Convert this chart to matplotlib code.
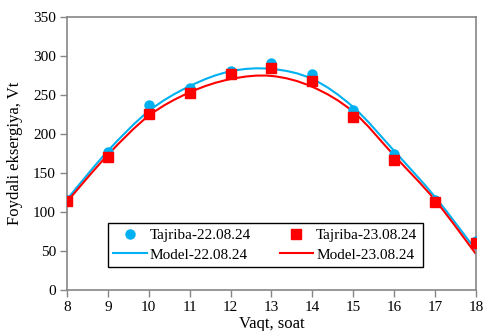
import numpy as np
from matplotlib import pyplot as plt
from matplotlib.path import Path
from matplotlib.patches import PathPatch
from matplotlib.lines import Line2D

hours = [8, 9, 10, 11, 12, 13, 14, 15, 16, 17, 18]
tajriba_22 = [115, 177, 237, 259, 280, 291, 277, 231, 174, 115, 63]
tajriba_23 = [114, 170, 225, 252, 276, 284, 267, 222, 166, 112, 60]
model_22 = [116, 178, 229, 261, 280, 283, 270, 234, 178, 119, 51]
model_23 = [113, 173, 223, 253, 270, 274, 260, 228, 172, 115, 46]

BLUE = "#00B0F0"
RED = "#FF0000"
GRAY = "#868686"


def smooth_path(x, y):
    """Excel-like smoothed line: cubic Bezier through every point."""
    x = np.asarray(x, float)
    y = np.asarray(y, float)
    pts = np.column_stack([x, y])
    ext = np.vstack([pts[0], pts, pts[-1]])
    verts = [pts[0]]
    codes = [Path.MOVETO]
    for i in range(len(pts) - 1):
        p0, p1, p2, p3 = ext[i], ext[i + 1], ext[i + 2], ext[i + 3]
        c1 = p1 + (p2 - p0) / 6
        c2 = p2 - (p3 - p1) / 6
        verts += [c1, c2, p2]
        codes += [Path.CURVE4] * 3
    return Path(verts, codes)


def main():
    plt.rcParams["font.family"] = ["Liberation Serif", "DejaVu Serif"]
    fig = plt.figure(figsize=(4.83, 3.31), dpi=100)
    ax = fig.add_axes([0.1387, 0.1239, 0.8468, 0.826])

    for vals, color in [(model_22, BLUE), (model_23, RED)]:
        ax.add_patch(PathPatch(smooth_path(hours, vals), facecolor="none",
                               edgecolor=color, lw=1.5, zorder=2))
    ax.plot(hours, tajriba_22, "o", color=BLUE, ms=6.5, zorder=3)
    ax.plot(hours, tajriba_23, "s", color=RED, ms=6.5, zorder=4)

    ax.set_xlim(8, 18)
    ax.set_ylim(0, 350)
    ax.set_xticks(range(8, 19))
    ax.set_yticks(range(0, 351, 50))
    ax.tick_params(direction="out", length=5, width=1, color=GRAY,
                   labelsize=11, pad=3)
    for s in ax.spines.values():
        s.set_color(GRAY)
        s.set_linewidth(1.2)

    ax.set_xlabel("Vaqt, soat", fontsize=12, labelpad=1.5)
    ax.set_ylabel("Foydali eksergiya, Vt", fontsize=12, labelpad=7)

    handles = [
        Line2D([], [], ls="none", marker="o", color=BLUE, ms=6.5),
        Line2D([], [], color=BLUE, lw=1.5),
        Line2D([], [], ls="none", marker="s", color=RED, ms=6.5),
        Line2D([], [], color=RED, lw=1.5),
    ]
    labels = ["Tajriba-22.08.24", "Model-22.08.24",
              "Tajriba-23.08.24", "Model-23.08.24"]
    leg = ax.legend(handles, labels, ncol=2, fontsize=11,
                    loc="lower left", bbox_to_anchor=(0.10, 0.084, 0.77, 0.168),
                    mode="expand", borderaxespad=0, fancybox=False,
                    framealpha=1, edgecolor="black", handlelength=2.2,
                    handletextpad=0.2, borderpad=0.35, labelspacing=0.4,
                    columnspacing=1.5)
    leg.get_frame().set_linewidth(1.0)

    fig.savefig("out.png", dpi=100)


if __name__ == "__main__":
    main()
